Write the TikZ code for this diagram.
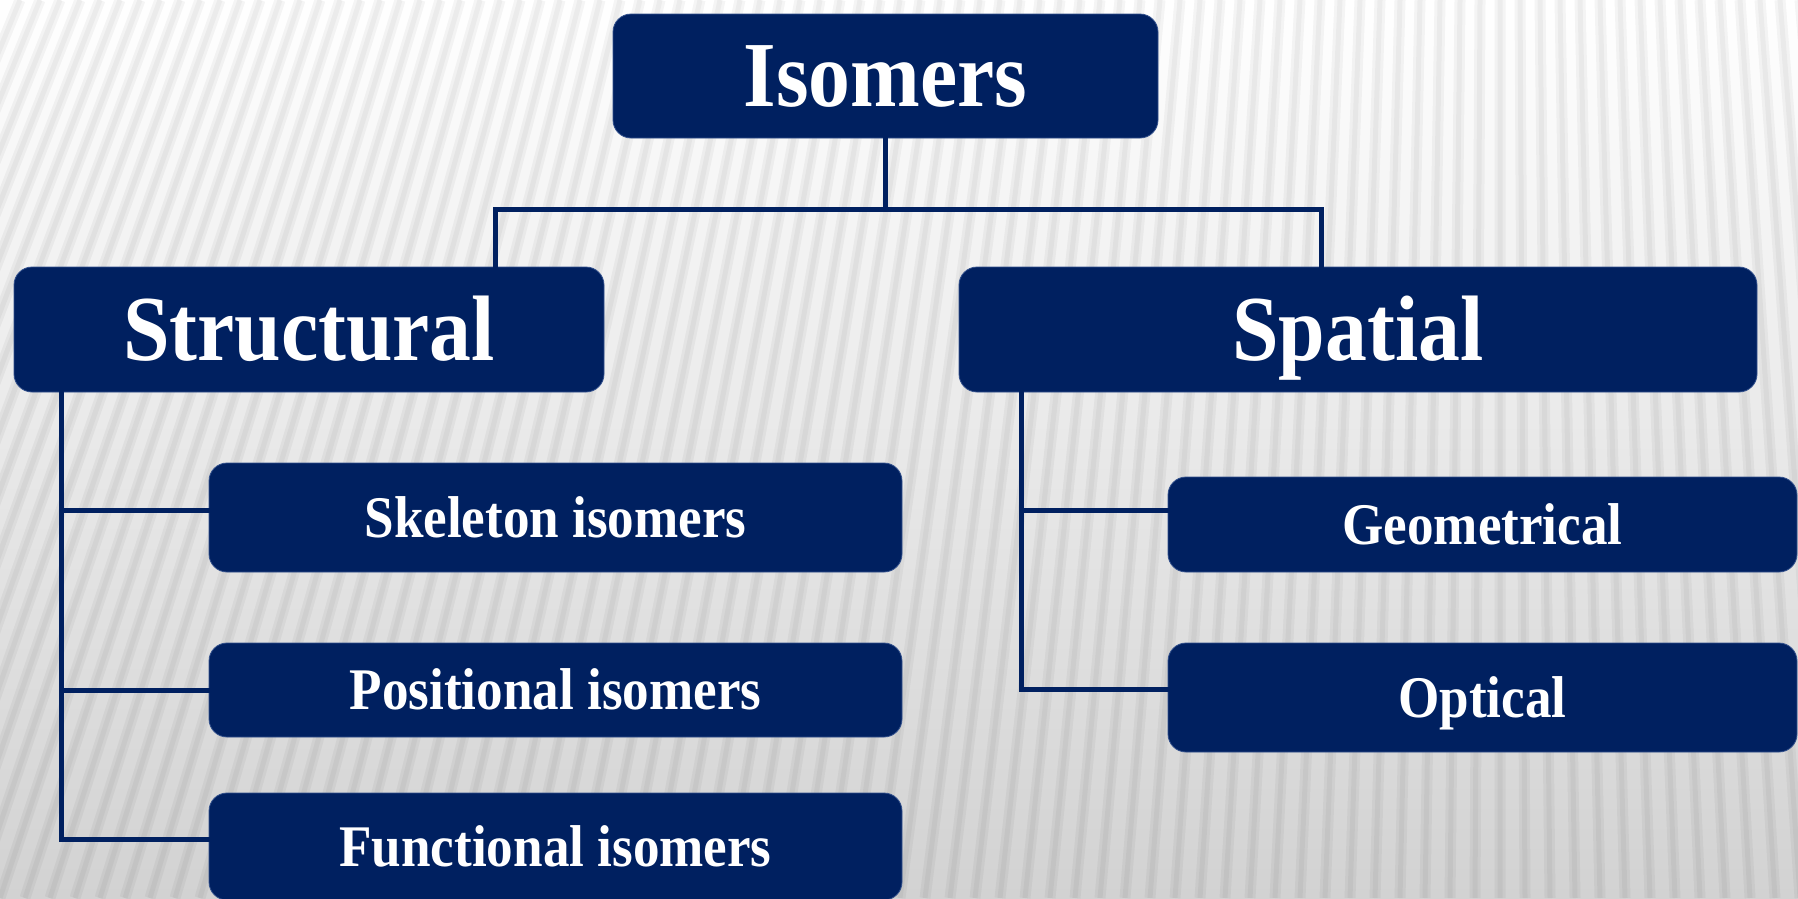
\documentclass[tikz,border=0pt]{standalone}
\usepackage{fontspec}
\setmainfont{Liberation Serif}[FakeStretch=0.9]
\usetikzlibrary{calc}
\definecolor{navy}{RGB}{0,32,96}
\definecolor{navyedge}{RGB}{50,80,140}
\definecolor{bgbot}{RGB}{210,210,210}
\definecolor{bgmid}{RGB}{236,236,236}
\tikzset{
  boxbase/.style={rounded corners=18pt, fill=navy, draw=navyedge, line width=0.8pt,
    inner sep=0pt, text=white, font=\bfseries, text depth=0pt, align=center},
  bigbox/.style={boxbase, font=\fontsize{93}{100}\selectfont\bfseries, text height=61pt},
  smallbox/.style={boxbase, font=\fontsize{59}{64}\selectfont\bfseries, text height=39pt},
  link/.style={draw=navy, line width=5pt, line join=miter, line cap=rect},
  stripe/.style={line width=11pt, draw=black, opacity=0.04},
  stripecore/.style={line width=5pt, draw=black, opacity=0.035}
}
\begin{document}
\begin{tikzpicture}[x=1pt,y=-1pt]
\useasboundingbox (0,0) rectangle (1798,898);
% background
\begin{scope}
\clip (0,0) rectangle (1798,898);
\shade[top color=white, middle color=bgmid, bottom color=bgbot] (0,0) rectangle (1798,898);
\foreach \i in {-14,...,80} {
  \pgfmathsetmacro{\xb}{\i*25}
  \pgfmathsetmacro{\xt}{\xb + 300 - 0.2*\xb}
  \draw[stripe] (\xb,898) -- (\xt,0);
  \draw[stripecore] (\xb,898) -- (\xt,0);
}
\end{scope}
% nodes
\node[bigbox, minimum width=545pt, minimum height=124pt] (iso) at (885.5,76) {Isomers};
\node[bigbox, minimum width=590pt, minimum height=125pt] (struct) at (309,329.5) {Structural};
\node[bigbox, minimum width=798pt, minimum height=125pt] (spat) at (1358,329.5) {Spatial};
\node[smallbox, minimum width=693pt, minimum height=109pt] (skel) at (555.5,517.5) {Skeleton isomers};
\node[smallbox, minimum width=693pt, minimum height=94pt] (posi) at (555.5,690) {Positional isomers};
\node[smallbox, minimum width=693pt, minimum height=107pt] (func) at (555.5,846.5) {Functional isomers};
\node[smallbox, minimum width=629pt, minimum height=95pt] (geom) at (1482.5,524.5) {Geometrical};
\node[smallbox, minimum width=629pt, minimum height=109pt] (opti) at (1482.5,697.5) {Optical};
% connectors
\coordinate (jL) at (495,209);
\coordinate (jR) at (1321,209);
\coordinate (tL) at (61,0);
\coordinate (tR) at (1021,0);
\draw[link] (iso.south) -- (iso.south |- jL);
\draw[link] (jL |- struct.north) -- (jL) -- (jR) -- (jR |- spat.north);
\draw[link] (tL |- struct.south) -- (tL |- 0,839) -- ([yshift=7.5pt]func.west);
\draw[link] (tL |- 0,510) -- ([yshift=7.5pt]skel.west);
\draw[link] (tL |- posi.west) -- (posi.west);
\draw[link] (tR |- spat.south) -- (tR |- 0,689) -- ([yshift=8.5pt]opti.west);
\draw[link] (tR |- 0,510) -- ([yshift=14.5pt]geom.west);
\end{tikzpicture}
\end{document}
